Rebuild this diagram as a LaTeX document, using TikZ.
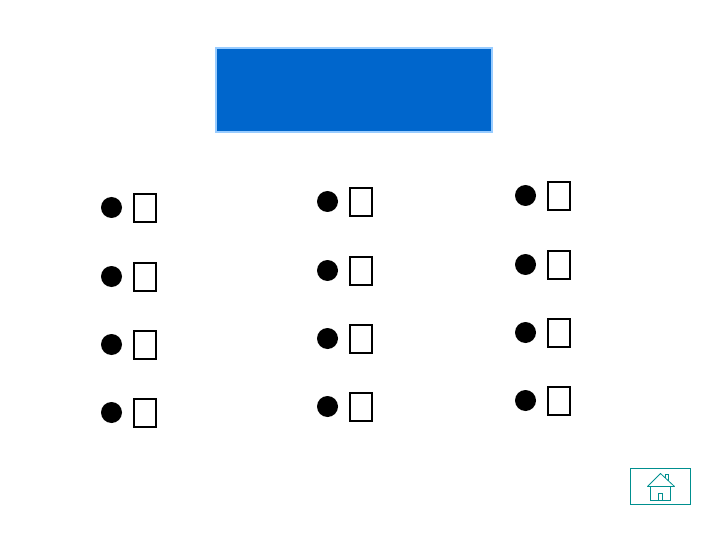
\documentclass[tikz,border=0pt]{standalone}
\definecolor{titleblue}{HTML}{0066CC}
\definecolor{titleedge}{HTML}{99CCFF}
\definecolor{hometeal}{HTML}{008F8F}
\tikzset{
  titlebox/.style={draw=titleedge,fill=titleblue,line width=2pt,minimum width=276pt,minimum height=84pt,inner sep=0pt},
  bullet/.style={circle,fill=black,minimum size=21pt,inner sep=0pt},
  slot/.style={draw=black,line width=2pt,fill=white,minimum width=22.6pt,minimum height=28pt,inner sep=0pt},
  homebox/.style={draw=hometeal,line width=1pt,minimum width=60pt,minimum height=36pt,inner sep=0pt}
}
\begin{document}
\begin{tikzpicture}[x=1pt,y=-1pt]
\useasboundingbox (0,0) rectangle (720,540);
\node[titlebox] (title) at (354,90) {};

\foreach \y/\n in {207.5/1,276.5/2,344.5/3,412.5/4} % left column
{
\node[bullet] (a\n) at (111.5,\y) {};
\node[slot] (as\n) at (145.1,\y+0.5) {};
}
\foreach \y/\n in {201.5/1,270.5/2,338.5/3,406.5/4} % middle column
{
\node[bullet] (b\n) at (327.5,\y) {};
\node[slot] (bs\n) at (361.1,\y+0.5) {};
}
\foreach \y/\n in {195.5/1,264.5/2,332.5/3,400.5/4} % right column
{
\node[bullet] (c\n) at (525.5,\y) {};
\node[slot] (cs\n) at (559.1,\y+0.5) {};
}

\node[homebox] (home) at (660.5,486.5) {};
\draw[hometeal,line width=1pt] (650.5,486.5) -- (650.5,500.5) -- (670.5,500.5) -- (670.5,486.5);
\draw[hometeal,line width=1pt] (658.5,500.5) -- (658.5,493.5) -- (662.5,493.5) -- (662.5,500.5);
\draw[hometeal,line width=.8pt,line join=round] (647.5,486.5) -- (660.5,473.5) -- (674.5,486.5) -- cycle;
\draw[hometeal,line width=1pt] (665.5,478) -- (665.5,474.5) -- (668.5,474.5) -- (668.5,481);
\end{tikzpicture}
\end{document}
